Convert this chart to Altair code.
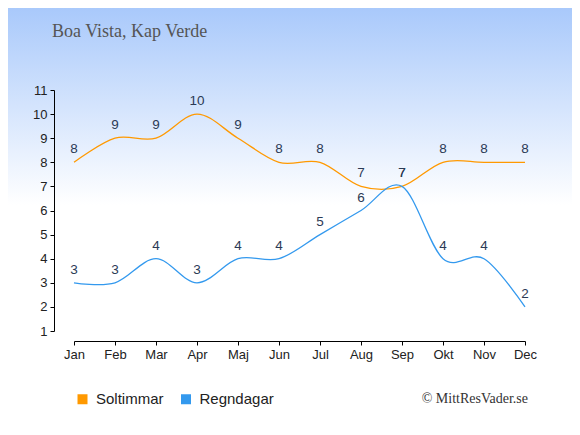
import json
import altair as alt
import pandas as pd

months = ["Jan", "Feb", "Mar", "Apr", "Maj", "Jun", "Jul", "Aug", "Sep", "Okt", "Nov", "Dec"]
soltimmar = [8, 9, 9, 10, 9, 8, 8, 7, 7, 8, 8, 8]
regndagar = [3, 3, 4, 3, 4, 4, 5, 6, 7, 4, 4, 2]
series_names = ["Soltimmar", "Regndagar"]
series_colors = ["#ff9900", "#3399ee"]
y_ticks = list(range(1, 12))
title_text = "Boa Vista, Kap Verde"
credit_text = "© MittResVader.se"

rows = []
for name, vals in zip(series_names, [soltimmar, regndagar]):
    for i, (m, v) in enumerate(zip(months, vals)):
        rows.append({"idx": i, "month": m, "series": name, "value": v})
df = pd.DataFrame(rows)

W, H = 451, 241
PAD = {"left": 66, "top": 82, "right": 47, "bottom": 96}

label_expr = json.dumps(months) + "[datum.value]"

x = alt.X(
    "idx:Q",
    scale=alt.Scale(domain=[0, 11], nice=False, zero=False),
    axis=alt.Axis(
        values=list(range(12)), labelExpr=label_expr, title=None, grid=False,
        offset=10, tickSize=4, domainColor="#000", tickColor="#000",
        labelFont="Liberation Sans", labelFontSize=13, labelColor="#222",
        labelPadding=3, zindex=1, labelFlush=False, labelOverlap=False,
        labelBound=False,
    ),
)
y = alt.Y(
    "value:Q",
    scale=alt.Scale(domain=[1, 11], nice=False, zero=False),
    axis=alt.Axis(
        values=y_ticks, title=None, grid=False, offset=20, tickSize=4,
        domainColor="#000", tickColor="#000",
        labelFont="Liberation Sans", labelFontSize=13, labelColor="#222",
        labelPadding=3, zindex=1, labelFlush=False, labelOverlap=False,
        labelBound=False,
    ),
)
color_scale = alt.Scale(domain=series_names, range=series_colors)

bg = alt.Chart(alt.Data(values=[{}])).mark_rect(
    fill=alt.Gradient(
        gradient="linear", x1=0, y1=0, x2=0, y2=1,
        stops=[alt.GradientStop(offset=0, color="#a9c9fb"),
               alt.GradientStop(offset=0.47, color="#ffffff"),
               alt.GradientStop(offset=1, color="#ffffff")],
    )
).encode(
    x=alt.value(-PAD["left"]), x2=alt.value(W + PAD["right"]),
    y=alt.value(-PAD["top"]), y2=alt.value(H + PAD["bottom"]),
)

base = alt.Chart(df)

# invisible points that carry the legend (filled squares)
legend_pts = base.mark_point(shape="square", filled=True, size=0, opacity=1).encode(
    x=x, y=y,
    color=alt.Color(
        "series:N", scale=color_scale, sort=series_names,
        legend=alt.Legend(
            title=None, orient="none", direction="horizontal",
            legendX=1, legendY=301.5, padding=0,
            symbolType="square", symbolSize=100, symbolStrokeWidth=0,
            symbolOpacity=1,
            labelFont="Liberation Sans", labelFontSize=15, labelColor="#222",
            labelOffset=6, columnPadding=14.5,
        ),
    ),
)

lines = base.mark_line(interpolate="cardinal", strokeWidth=1.3).encode(
    x=x, y=y,
    color=alt.Color("series:N", scale=color_scale, legend=None),
    detail="series:N",
)
labels = base.mark_text(
    dy=-9, baseline="alphabetic", font="Liberation Sans", fontSize=13.5, color="#2b3a55"
).encode(x=x, y=y, text="value:Q")

title = alt.Chart(alt.Data(values=[{"t": title_text}])).mark_text(
    align="left", baseline="alphabetic", font="Liberation Serif", fontSize=18, color="#555555"
).encode(x=alt.value(-22), y=alt.value(-52.8), text="t:N")

credit = alt.Chart(alt.Data(values=[{"t": credit_text}])).mark_text(
    align="right", baseline="alphabetic", font="Liberation Serif", fontSize=14, color="#333333"
).encode(x=alt.value(454), y=alt.value(312.5), text="t:N")

chart = alt.layer(bg, legend_pts, lines, labels, title, credit).properties(
    width=W, height=H,
    autosize=alt.AutoSizeParams(type="none"),
    padding=PAD,
    background="#ffffff",
).configure_view(stroke=None)

chart.save("out.html", embed_options={"renderer": "svg", "actions": False})
